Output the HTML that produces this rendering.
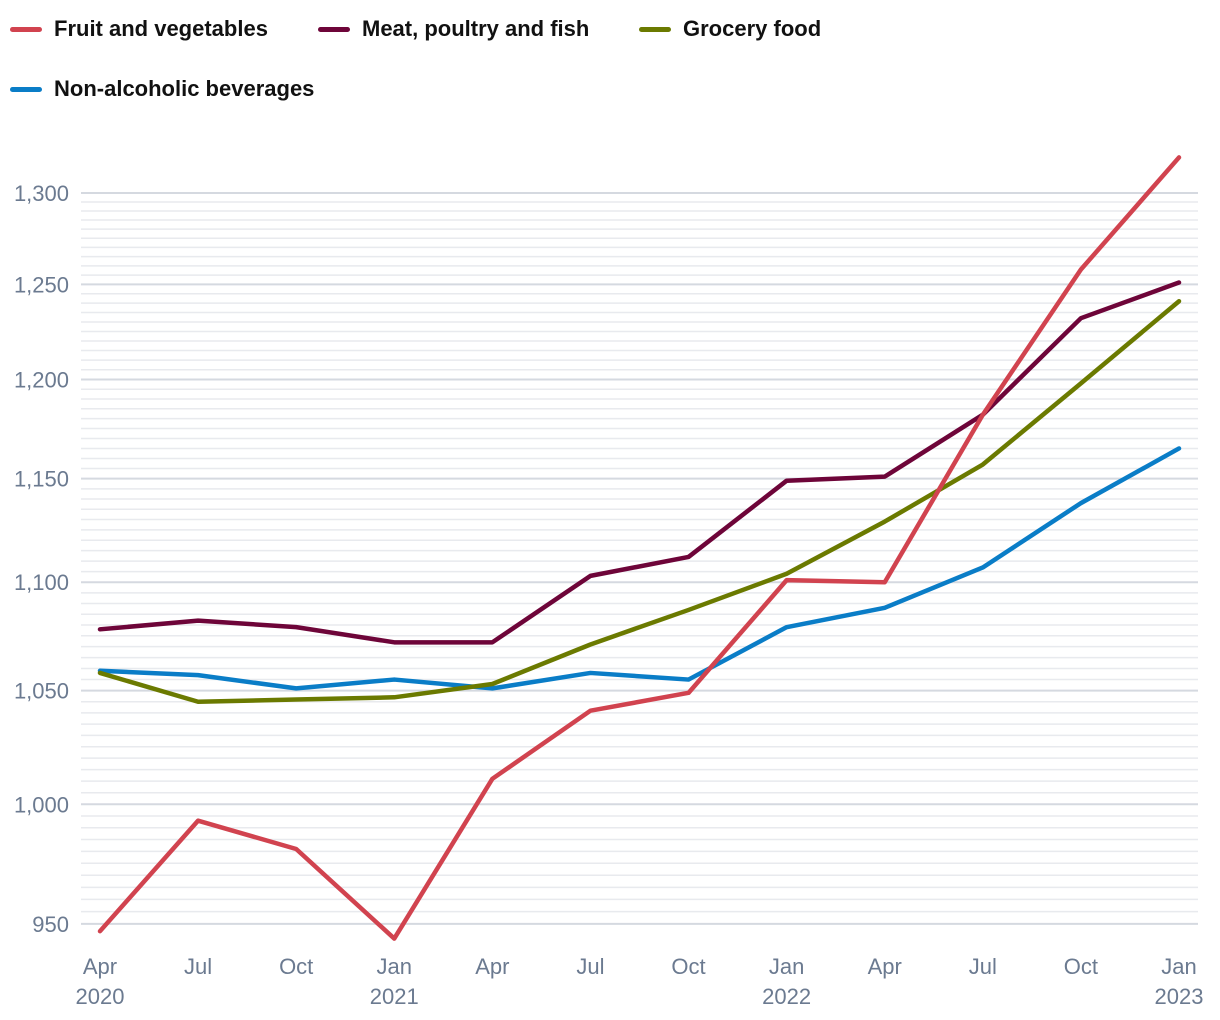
<!DOCTYPE html>
<html><head><meta charset="utf-8"><style>
body{margin:0;background:#fff;width:1220px;height:1020px;overflow:hidden;font-family:"Liberation Sans",sans-serif}
.leg{position:absolute;font-size:22px;font-weight:bold;color:#111;display:flex;align-items:center}
.leg i{display:inline-block;width:32px;height:5px;border-radius:3px;margin-right:12px}
</style></head><body>
<div class="leg" style="left:10px;top:16px"><i style="background:#d1434f"></i>Fruit and vegetables</div>
<div class="leg" style="left:318px;top:16px"><i style="background:#6e0539"></i>Meat, poultry and fish</div>
<div class="leg" style="left:639px;top:16px"><i style="background:#6b7a00"></i>Grocery food</div>
<div class="leg" style="left:10px;top:76px"><i style="background:#0a7dc7"></i>Non-alcoholic beverages</div>
<svg id="c" width="1220" height="1020" style="position:absolute;left:0;top:0"></svg>
<script>
const categories=["Apr|2020","Jul","Oct","Jan|2021","Apr","Jul","Oct","Jan|2022","Apr","Jul","Oct","Jan|2023"];
const fruit=[947,993,981,944,1011,1041,1049,1101,1100,1182,1258,1320];
const meat=[1078,1082,1079,1072,1072,1103,1112,1149,1151,1182,1232,1251];
const grocery=[1058,1045,1046,1047,1053,1071,1087,1104,1129,1157,1198,1241];
const beverages=[1059,1057,1051,1055,1051,1058,1055,1079,1088,1107,1138,1165];
const yTicks=[950,1000,1050,1100,1150,1200,1250,1300];
const ns="http://www.w3.org/2000/svg",svg=document.getElementById('c');
const y=v=>193+(Math.log(1300)-Math.log(v))*2330;
const x=i=>100+i*(1079/11);
function el(t,a){const e=document.createElementNS(ns,t);for(const k in a)e.setAttribute(k,a[k]);svg.appendChild(e);return e;}
for(let v=950;v<=1300;v+=5){
 const major=yTicks.includes(v);
 const l=el('line',{x1:81,x2:1198,y1:y(v),y2:y(v),stroke:major?'#d5d9e0':'#e8eaee','stroke-width':major?2:1.5});
 
 
}
yTicks.forEach(v=>{
 const t=el('text',{x:69,y:y(v)+8,'text-anchor':'end','font-size':22,fill:'#6b7a90'});
 t.textContent=v.toLocaleString('en-US');
 
 
});
categories.forEach((c,i)=>{
 const p=c.split('|');
 p.forEach((s,j)=>{
  const t=el('text',{x:x(i),y:974+j*30,'text-anchor':'middle','font-size':22,fill:'#6b7a90'});
  t.textContent=s;
  
  
 });
});
[[beverages,'#0a7dc7','line-beverages'],[grocery,'#6b7a00','line-grocery'],[meat,'#6e0539','line-meat'],[fruit,'#d1434f','line-fruit']].forEach(([d,col,n])=>{
 const p=el('polyline',{points:d.map((v,i)=>x(i)+','+y(v)).join(' '),fill:'none',stroke:col,'stroke-width':4.5,'stroke-linejoin':'round','stroke-linecap':'round'});
 
 
});
</script>
</body></html>
